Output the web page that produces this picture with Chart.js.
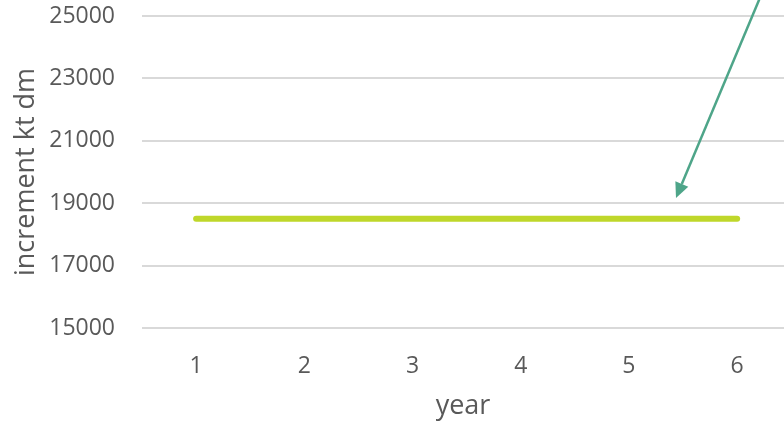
<!DOCTYPE html>
<html>
<head>
<meta charset="utf-8">
<script src="https://cdn.jsdelivr.net/npm/chart.js@4"></script>
<style>
html,body{margin:0;padding:0;background:#fff;}
#wrap{width:784px;height:423px;}
</style>
</head>
<body>
<div id="wrap"><canvas id="c" width="784" height="423"></canvas></div>
<script>
const categories = ['1','2','3','4','5','6'];
const incrementValues = [18500, 18500, 18500, 18500, 18500, 18500];
const yTicks = [15000, 17000, 19000, 21000, 23000, 25000];
// annotation arrow in data space: [year position, value]
const arrowTail = [6.237, 25800];
const arrowTip = [5.435, 19170];

const FONT = "'Open Sans', 'Noto Sans', sans-serif";
const TXT = '#595959';

const arrowPlugin = {
  id: 'arrow',
  afterDatasetsDraw(chart) {
    const xs = chart.scales.x, ys = chart.scales.y;
    const ctx = chart.ctx;
    const x1 = xs.getPixelForValue(arrowTail[0]), y1 = ys.getPixelForValue(arrowTail[1]);
    const x2 = xs.getPixelForValue(arrowTip[0]), y2 = ys.getPixelForValue(arrowTip[1]);
    const ang = Math.atan2(y2 - y1, x2 - x1);
    const L = 15, W = 7;
    const bx = x2 - L * Math.cos(ang), by = y2 - L * Math.sin(ang);
    ctx.save();
    ctx.strokeStyle = '#4ea589';
    ctx.fillStyle = '#4ea589';
    ctx.lineWidth = 2.5;
    ctx.beginPath();
    ctx.moveTo(x1, y1);
    ctx.lineTo(bx, by);
    ctx.stroke();
    ctx.beginPath();
    ctx.moveTo(x2, y2);
    ctx.lineTo(bx + W * Math.sin(ang), by - W * Math.cos(ang));
    ctx.lineTo(bx - W * Math.sin(ang), by + W * Math.cos(ang));
    ctx.closePath();
    ctx.fill();
    ctx.restore();
  }
};

new Chart(document.getElementById('c'), {
  type: 'line',
  data: {
    datasets: [{
      data: categories.map((c, i) => ({ x: Number(c), y: incrementValues[i] })),
      borderColor: '#bfd72a',
      borderWidth: 6,
      borderCapStyle: 'round',
      pointRadius: 0,
      fill: false,
      tension: 0
    }]
  },
  options: {
    responsive: false,
    animation: false,
    layout: { padding: { top: 16, right: 0, left: 10, bottom: 0 } },
    plugins: { legend: { display: false }, tooltip: { enabled: false } },
    scales: {
      x: {
        type: 'linear',
        min: 0.5, max: 6.433,
        afterBuildTicks(s) { s.ticks = categories.map(c => ({ value: Number(c) })); },
        grid: { display: false, drawTicks: false },
        border: { display: false },
        ticks: { color: TXT, font: { family: FONT, size: 23 }, padding: 25, maxRotation: 0, autoSkip: false,
                 callback: (v) => String(v) },
        title: { display: true, text: 'year', color: TXT, font: { family: FONT, size: 27 }, padding: { top: 0, bottom: 0 } },
        afterFit(s) { s.height = 95; s.paddingLeft = 0; s.paddingRight = 0; }
      },
      y: {
        min: 15000, max: 25000,
        afterBuildTicks(s) { s.ticks = yTicks.map(v => ({ value: v })); },
        grid: { color: '#d9d9d9', lineWidth: 2, drawTicks: false },
        border: { display: false },
        ticks: { color: TXT, font: { family: FONT, size: 23 }, padding: 27, callback: v => String(v) },
        title: { display: true, text: 'increment kt dm', color: TXT, font: { family: FONT, size: 27 }, padding: { top: 0, bottom: 0 } },
        afterFit(s) { s.width = 132; s.paddingTop = 0; s.paddingBottom = 0; }
      }
    }
  },
  plugins: [arrowPlugin]
});
</script>
</body>
</html>
